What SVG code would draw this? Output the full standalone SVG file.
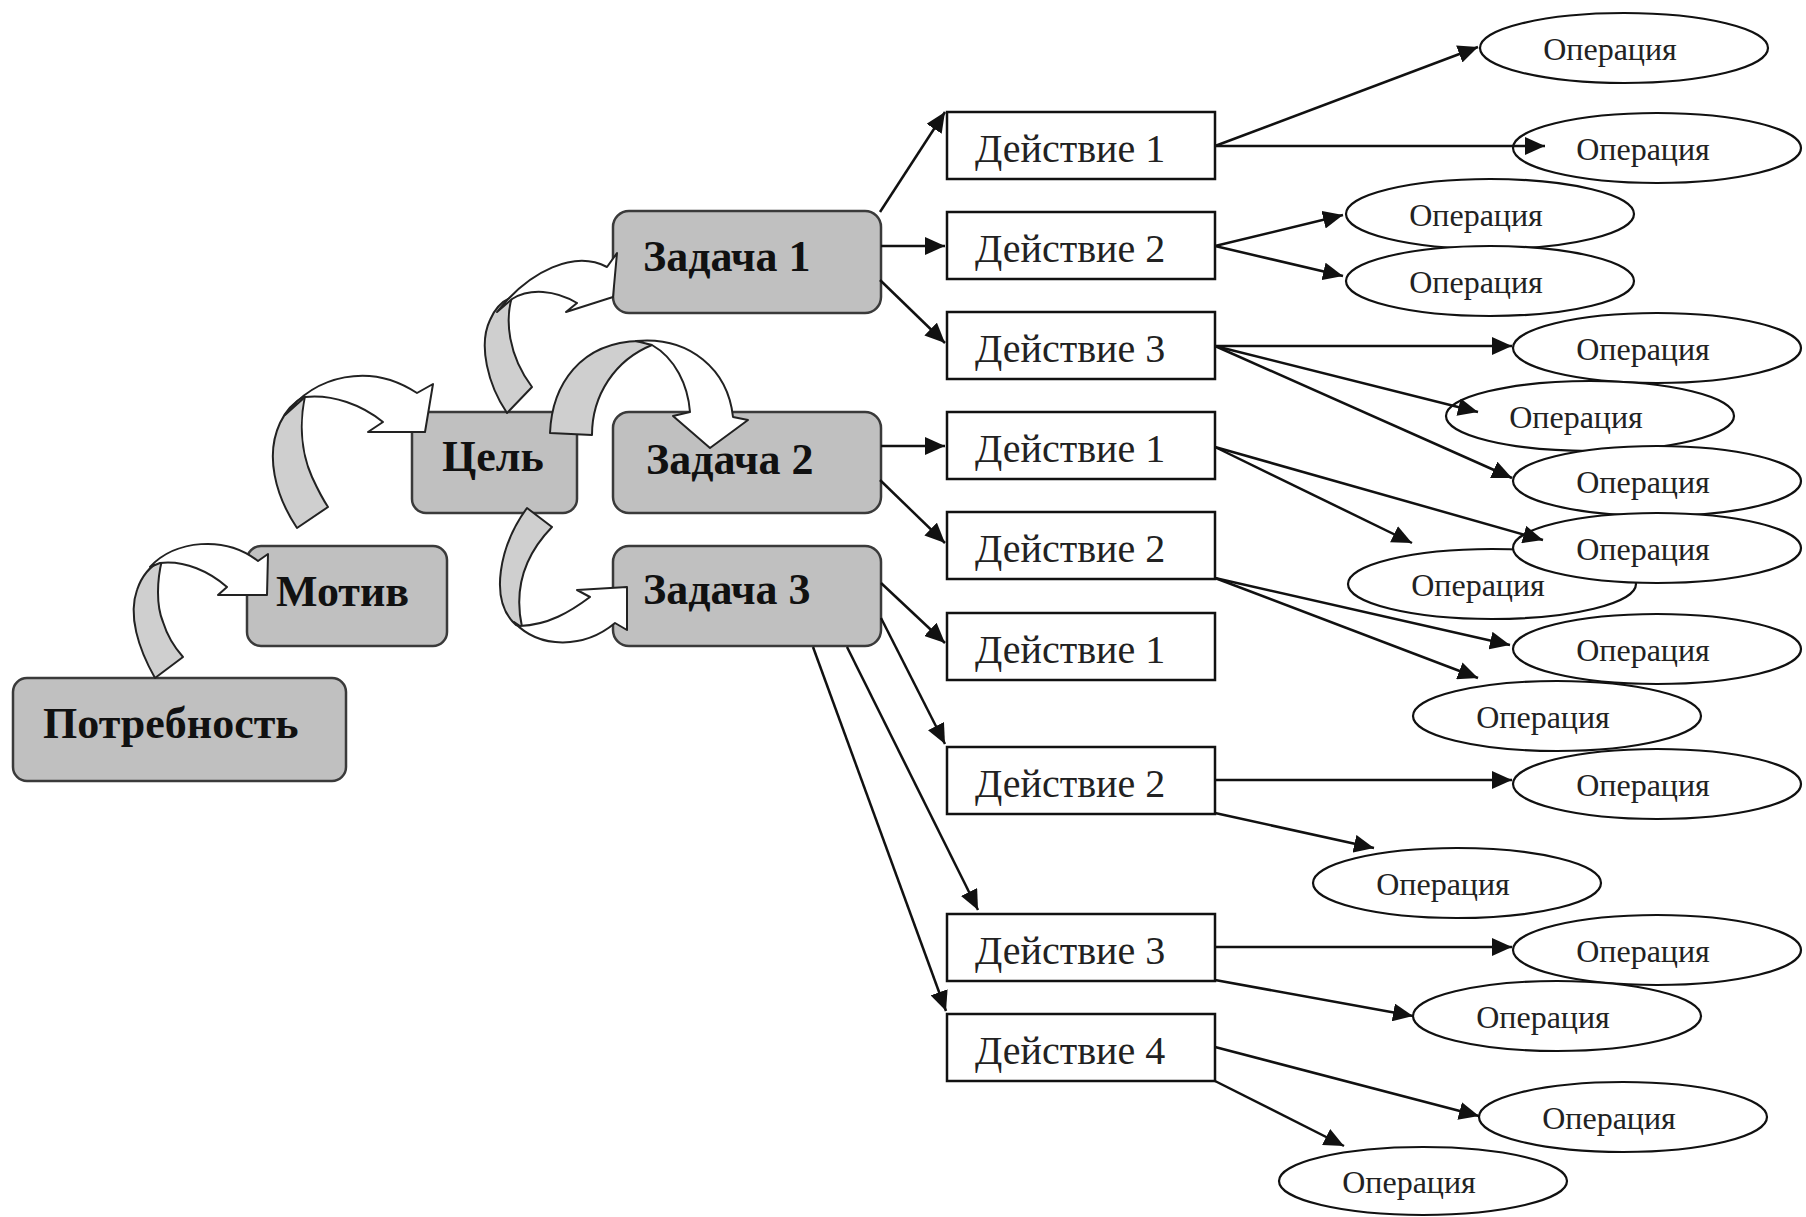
<svg xmlns="http://www.w3.org/2000/svg" width="1806" height="1217" viewBox="0 0 1806 1217">
<defs>
<style>
.n{fill:#c0c0c0;stroke:#3a3a3a;stroke-width:2.5}
.nt{font-family:"Liberation Serif","Times New Roman",serif;font-weight:bold;font-size:44px;fill:#111}
.a{fill:#fff;stroke:#111;stroke-width:2.5}
.at{font-family:"Liberation Serif","Times New Roman",serif;font-size:40px;fill:#222}
.o{fill:#fff;stroke:#111;stroke-width:2.2}
.ot{font-family:"Liberation Serif","Times New Roman",serif;font-size:32px;fill:#222;text-anchor:middle}
.cg{fill:#cfcfcf;stroke:#222;stroke-width:2;stroke-linejoin:round}
.cw{fill:#fff;stroke:#222;stroke-width:2;stroke-linejoin:round}
.l{stroke:#111;stroke-width:2.5;fill:none;marker-end:url(#ah)}
</style>
<marker id="ah" markerUnits="userSpaceOnUse" markerWidth="22" markerHeight="18" refX="20" refY="9" orient="auto"><path d="M0,0 L20,9 L0,18 z" fill="#111"/></marker>
</defs>
<rect width="1806" height="1217" fill="#fff"/>

<g id="need"><rect class="n" x="13" y="678" width="333" height="103" rx="14"/><text class="nt" x="43" y="738">Потребность</text></g>
<g id="motive"><rect class="n" x="247" y="546" width="200" height="100" rx="14"/><text class="nt" x="276" y="606">Мотив</text></g>
<g id="goal"><rect class="n" x="412" y="412" width="165" height="101" rx="14"/><text class="nt" x="442" y="471">Цель</text></g>
<g id="task1"><rect class="n" x="613" y="211" width="268" height="102" rx="16"/><text class="nt" x="643" y="271">Задача 1</text></g>
<g id="task2"><rect class="n" x="613" y="412" width="268" height="101" rx="16"/><text class="nt" x="646" y="474">Задача 2</text></g>
<g id="task3"><rect class="n" x="613" y="546" width="268" height="100" rx="16"/><text class="nt" x="643" y="604">Задача 3</text></g>

<g id="act1a"><rect class="a" x="947" y="112" width="268" height="67"/><text class="at" x="975" y="162">Действие 1</text></g>
<g id="act2a"><rect class="a" x="947" y="212" width="268" height="67"/><text class="at" x="975" y="262">Действие 2</text></g>
<g id="act3a"><rect class="a" x="947" y="312" width="268" height="67"/><text class="at" x="975" y="362">Действие 3</text></g>
<g id="act1b"><rect class="a" x="947" y="412" width="268" height="67"/><text class="at" x="975" y="462">Действие 1</text></g>
<g id="act2b"><rect class="a" x="947" y="512" width="268" height="67"/><text class="at" x="975" y="562">Действие 2</text></g>
<g id="act1c"><rect class="a" x="947" y="613" width="268" height="67"/><text class="at" x="975" y="663">Действие 1</text></g>
<g id="act2c"><rect class="a" x="947" y="747" width="268" height="67"/><text class="at" x="975" y="797">Действие 2</text></g>
<g id="act3c"><rect class="a" x="947" y="914" width="268" height="67"/><text class="at" x="975" y="964">Действие 3</text></g>
<g id="act4c"><rect class="a" x="947" y="1014" width="268" height="67"/><text class="at" x="975" y="1064">Действие 4</text></g>

<g id="op1"><ellipse class="o" cx="1624" cy="48" rx="144" ry="35"/><text class="ot" x="1610" y="60">Операция</text></g>
<g id="op2"><ellipse class="o" cx="1657" cy="148" rx="144" ry="35"/><text class="ot" x="1643" y="160">Операция</text></g>
<g id="op3"><ellipse class="o" cx="1490" cy="214" rx="144" ry="35"/><text class="ot" x="1476" y="226">Операция</text></g>
<g id="op4"><ellipse class="o" cx="1490" cy="281" rx="144" ry="35"/><text class="ot" x="1476" y="293">Операция</text></g>
<g id="op5"><ellipse class="o" cx="1657" cy="348" rx="144" ry="35"/><text class="ot" x="1643" y="360">Операция</text></g>
<g id="op6"><ellipse class="o" cx="1590" cy="416" rx="144" ry="35"/><text class="ot" x="1576" y="428">Операция</text></g>
<g id="op7"><ellipse class="o" cx="1657" cy="481" rx="144" ry="35"/><text class="ot" x="1643" y="493">Операция</text></g>
<g id="op9"><ellipse class="o" cx="1492" cy="584" rx="144" ry="35"/><text class="ot" x="1478" y="596">Операция</text></g>
<g id="op8"><ellipse class="o" cx="1657" cy="548" rx="144" ry="35"/><text class="ot" x="1643" y="560">Операция</text></g>
<g id="op10"><ellipse class="o" cx="1657" cy="649" rx="144" ry="35"/><text class="ot" x="1643" y="661">Операция</text></g>
<g id="op11"><ellipse class="o" cx="1557" cy="716" rx="144" ry="35"/><text class="ot" x="1543" y="728">Операция</text></g>
<g id="op12"><ellipse class="o" cx="1657" cy="784" rx="144" ry="35"/><text class="ot" x="1643" y="796">Операция</text></g>
<g id="op13"><ellipse class="o" cx="1457" cy="883" rx="144" ry="35"/><text class="ot" x="1443" y="895">Операция</text></g>
<g id="op14"><ellipse class="o" cx="1657" cy="950" rx="144" ry="35"/><text class="ot" x="1643" y="962">Операция</text></g>
<g id="op15"><ellipse class="o" cx="1557" cy="1016" rx="144" ry="35"/><text class="ot" x="1543" y="1028">Операция</text></g>
<g id="op16"><ellipse class="o" cx="1623" cy="1117" rx="144" ry="35"/><text class="ot" x="1609" y="1129">Операция</text></g>
<g id="op17"><ellipse class="o" cx="1423" cy="1181" rx="144" ry="34"/><text class="ot" x="1409" y="1193">Операция</text></g>

<g id="curved-arrows">
<path class="cg" d="M155,678 C138,648 128,615 137,590 C142,575 152,565 162,560 C157,580 156,605 163,622 C168,638 175,648 183,657 Z"/>
<path class="cw" d="M150,567 C175,540 225,535 258,561 L268,554 L267,595 L218,595 L227,587 C210,572 185,560 160,563 Z"/>
<path class="cg" d="M297,528 C275,495 265,455 280,423 C286,410 294,402 305,396 C300,420 300,450 312,477 C318,490 322,498 328,507 Z"/>
<path class="cw" d="M285,415 C315,375 370,362 417,393 L433,384 L425,432 L368,432 L383,422 C362,405 333,394 305,397 Z"/>
<path class="cg" d="M507,413 C488,385 478,345 490,320 C495,308 502,301 512,297 C505,320 508,355 532,387 Z"/>
<path class="cw" d="M497,312 C530,270 575,250 607,267 L617,253 L613,297 L566,312 L577,303 C555,290 530,288 512,299 Z"/>
<path class="cg" d="M550,433 C552,385 580,342 640,341 L652,345 C615,360 592,395 592,435 Z"/>
<path class="cw" d="M636,341 C690,336 728,370 733,417 L748,420 L710,448 L673,416 L690,412 C688,385 675,358 652,345 Z"/>
<path class="cg" d="M527,508 C500,545 488,600 516,625 L522,627 C515,595 520,560 552,527 Z"/>
<path class="cw" d="M514,622 C540,650 585,648 615,623 L627,630 L627,587 L577,590 L590,597 C570,612 548,625 520,626 Z"/>
</g>

<g id="connectors">
<line class="l" x1="880" y1="212" x2="945" y2="112"/>
<line class="l" x1="881" y1="246" x2="945" y2="246"/>
<line class="l" x1="880" y1="280" x2="945" y2="343"/>
<line class="l" x1="881" y1="446" x2="945" y2="446"/>
<line class="l" x1="880" y1="480" x2="945" y2="543"/>
<line class="l" x1="881" y1="583" x2="945" y2="643"/>
<line class="l" x1="881" y1="618" x2="945" y2="744"/>
<line class="l" x1="847" y1="647" x2="978" y2="910"/>
<line class="l" x1="813" y1="647" x2="946" y2="1011"/>

<line class="l" x1="1215" y1="146" x2="1478" y2="47"/>
<line class="l" x1="1215" y1="146" x2="1545" y2="146"/>
<line class="l" x1="1215" y1="246" x2="1343" y2="215"/>
<line class="l" x1="1215" y1="246" x2="1343" y2="276"/>
<line class="l" x1="1215" y1="346" x2="1512" y2="346"/>
<line class="l" x1="1215" y1="346" x2="1478" y2="412"/>
<line class="l" x1="1215" y1="346" x2="1512" y2="478"/>
<line class="l" x1="1215" y1="447" x2="1412" y2="543"/>
<line class="l" x1="1215" y1="447" x2="1543" y2="540"/>
<line class="l" x1="1215" y1="578" x2="1510" y2="645"/>
<line class="l" x1="1215" y1="578" x2="1478" y2="678"/>
<line class="l" x1="1215" y1="780" x2="1512" y2="780"/>
<line class="l" x1="1215" y1="813" x2="1374" y2="848"/>
<line class="l" x1="1215" y1="947" x2="1512" y2="947"/>
<line class="l" x1="1215" y1="980" x2="1413" y2="1016"/>
<line class="l" x1="1215" y1="1047" x2="1479" y2="1116"/>
<line class="l" x1="1215" y1="1081" x2="1344" y2="1146"/>
</g>
</svg>
